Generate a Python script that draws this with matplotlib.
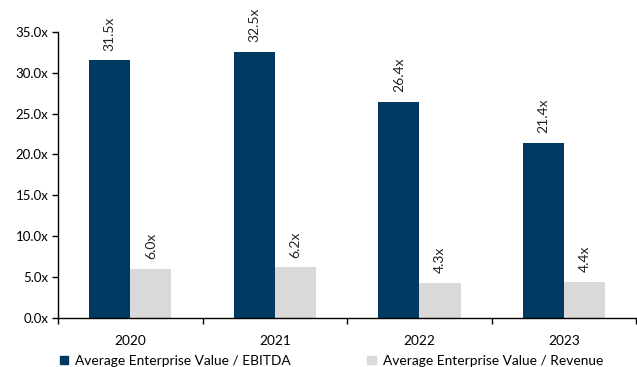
import numpy as np
import matplotlib.pyplot as plt
from matplotlib.patches import Patch
from matplotlib.ticker import FuncFormatter, MultipleLocator

plt.rcParams['font.family'] = ['Lato', 'DejaVu Sans']

years = ['2020', '2021', '2022', '2023']
ev_ebitda = [31.5, 32.5, 26.4, 21.4]
ev_revenue = [6.0, 6.2, 4.3, 4.4]
series_names = ['Average Enterprise Value / EBITDA', 'Average Enterprise Value / Revenue']

dark = '#003A63'
light = '#D9D9D9'

fig = plt.figure(figsize=(6.37, 3.67), dpi=100)
ax = fig.add_axes([0.091, 0.1335, 0.908, 0.78])

x = np.arange(len(years))
w = 0.285
b1 = ax.bar(x - w / 2, ev_ebitda, w, color=dark)
b2 = ax.bar(x + w / 2, ev_revenue, w, color=light)

for bars, vals in ((b1, ev_ebitda), (b2, ev_revenue)):
    for r, v in zip(bars, vals):
        ax.annotate(f'{v:.1f}x', (r.get_x() + r.get_width() / 2, v),
                    xytext=(0, 7), textcoords='offset points',
                    rotation=90, ha='center', va='bottom', fontsize=10, color='#222222')

ax.set_xlim(-0.5, len(years) - 0.5)
ax.set_ylim(0, 35)
ax.yaxis.set_major_locator(MultipleLocator(5))
ax.yaxis.set_major_formatter(FuncFormatter(lambda v, _: f'{v:.1f}x'))

# category labels centred, ticks on the boundaries between groups
ax.set_xticks(np.arange(len(years) + 1) - 0.5)
ax.set_xticklabels([])
ax.set_xticks(x, minor=True)
ax.set_xticklabels(years, minor=True)
ax.tick_params(axis='x', which='minor', length=0, pad=12, labelsize=9.8)
ax.tick_params(axis='x', which='major', length=4, width=1)
ax.tick_params(axis='y', length=4, width=1, labelsize=9.5, pad=3)

for s in ('top', 'right'):
    ax.spines[s].set_visible(False)
for s in ('left', 'bottom'):
    ax.spines[s].set_linewidth(1)
    ax.spines[s].set_color('black')

handles = [Patch(color=dark), Patch(color=light)]
fig.legend(handles, series_names, loc='center left', bbox_to_anchor=(0.085, 0.017),
           ncol=2, frameon=False, fontsize=9.9, handlelength=0.6, handleheight=0.6,
           handletextpad=0.5, columnspacing=5.6, borderaxespad=0)

fig.savefig('out.png', dpi=100)
